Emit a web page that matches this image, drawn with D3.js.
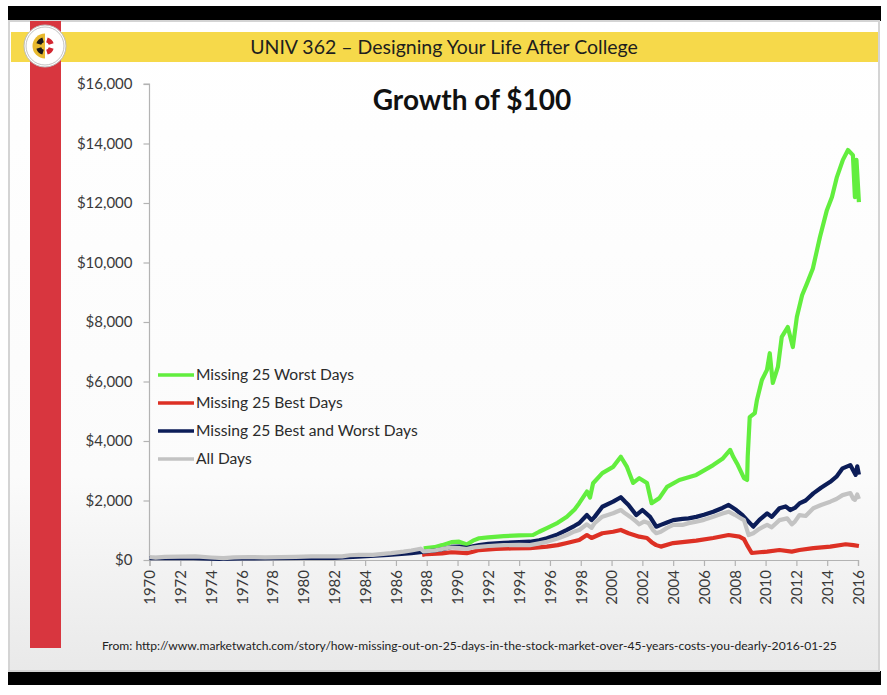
<!DOCTYPE html>
<html>
<head>
<meta charset="utf-8">
<script src="https://cdn.jsdelivr.net/npm/d3@7"></script>
<style>
  body { margin: 0; background: #fff; }
  text { font-family: Lato, "Open Sans", sans-serif; }
</style>
</head>
<body>
<svg id="slide" width="887" height="695"></svg>
<script>
// values, one pair of arrays per series
const years_all = [1970.0, 1970.4, 1971.0, 1972.0, 1973.0, 1974.0, 1974.8, 1975.5, 1976.5, 1977.5, 1978.5, 1979.5, 1980.5, 1981.5, 1982.5, 1983.0, 1983.6, 1984.5, 1985.0, 1985.7, 1986.5, 1987.0, 1987.6, 1987.8, 1988.5, 1989.5, 1990.1, 1990.6, 1991.0, 1991.4, 1992.0, 1993.0, 1994.0, 1994.7, 1995.3, 1995.8, 1996.5, 1997.1, 1997.6, 1997.9, 1998.4, 1998.7, 1998.9, 1999.4, 2000.1, 2000.6, 2000.9, 2001.2, 2001.6, 2001.8, 2002.1, 2002.4, 2002.7, 2002.9, 2003.2, 2003.6, 2004.0, 2004.6, 2005.0, 2005.5, 2006.0, 2006.6, 2007.2, 2007.6, 2008.0, 2008.4, 2008.6, 2008.8, 2008.9, 2009.2, 2009.6, 2010.1, 2010.4, 2010.9, 2011.4, 2011.7, 2011.9, 2012.2, 2012.6, 2013.1, 2013.6, 2014.2, 2014.6, 2015.0, 2015.5, 2015.7, 2015.8, 2015.95, 2016.06];
const values_all = [100, 80, 105, 115, 120, 85, 65, 85, 100, 90, 95, 105, 125, 120, 120, 160, 170, 175, 200, 230, 280, 320, 380, 290, 320, 420, 400, 370, 420, 440, 470, 500, 510, 500, 560, 615, 720, 840, 960, 1010, 1200, 1080, 1240, 1455, 1570, 1680, 1560, 1455, 1290, 1200, 1290, 1240, 1000, 900, 950, 1080, 1180, 1180, 1240, 1290, 1350, 1455, 1560, 1625, 1520, 1400, 1340, 1000, 840, 900, 1050, 1180, 1100, 1340, 1400, 1200, 1290, 1510, 1480, 1740, 1850, 1960, 2050, 2180, 2250, 2050, 2020, 2200, 2050];

const years_both = [1970.0, 1972.3, 1974.5, 1976.0, 1978.0, 1980.0, 1982.0, 1983.5, 1985.5, 1987.0, 1988.0, 1988.5, 1989.0, 1989.6, 1990.1, 1990.6, 1991.0, 1991.4, 1992.0, 1993.0, 1994.0, 1994.7, 1995.3, 1995.8, 1996.5, 1997.1, 1997.6, 1997.9, 1998.4, 1998.7, 1998.9, 1999.4, 2000.1, 2000.6, 2000.9, 2001.1, 2001.6, 2002.0, 2002.5, 2002.9, 2003.2, 2003.6, 2004.0, 2004.6, 2005.0, 2005.5, 2006.0, 2006.6, 2007.2, 2007.6, 2008.1, 2008.5, 2008.8, 2009.2, 2009.6, 2010.1, 2010.4, 2010.9, 2011.3, 2011.6, 2011.9, 2012.2, 2012.6, 2013.1, 2013.6, 2014.2, 2014.6, 2015.0, 2015.5, 2015.7, 2015.85, 2015.95, 2016.06];
const values_both = [60, 70, 40, 55, 60, 70, 70, 110, 170, 230, 290, 320, 360, 440, 450, 400, 460, 500, 540, 580, 600, 615, 660, 730, 860, 1010, 1150, 1240, 1510, 1340, 1450, 1790, 1960, 2110, 1950, 1850, 1510, 1680, 1450, 1120, 1180, 1260, 1340, 1380, 1400, 1450, 1520, 1620, 1750, 1850, 1680, 1510, 1340, 1120, 1350, 1570, 1450, 1740, 1800, 1680, 1750, 1900, 2000, 2240, 2430, 2630, 2800, 3080, 3190, 3000, 2860, 3150, 2870];

const years_best = [1987.7, 1988.0, 1989.0, 1989.6, 1990.1, 1990.6, 1991.0, 1991.4, 1992.5, 1993.5, 1994.7, 1995.8, 1996.5, 1997.1, 1997.9, 1998.4, 1998.7, 1999.4, 2000.1, 2000.6, 2001.1, 2001.8, 2002.3, 2002.6, 2002.9, 2003.2, 2004.0, 2005.5, 2006.6, 2007.6, 2008.3, 2008.6, 2008.8, 2009.1, 2009.6, 2010.1, 2010.9, 2011.7, 2012.2, 2013.1, 2014.2, 2015.2, 2015.7, 2016.06];
const values_best = [170, 200, 220, 260, 245, 230, 280, 335, 370, 390, 400, 450, 500, 570, 670, 840, 740, 900, 950, 1010, 900, 785, 740, 600, 500, 450, 570, 650, 740, 840, 785, 700, 500, 235, 260, 280, 335, 280, 335, 400, 450, 530, 500, 470];

const years_worst = [1987.8, 1988.5, 1989.0, 1989.6, 1990.1, 1990.6, 1991.0, 1991.4, 1992.0, 1993.0, 1994.0, 1994.9, 1995.3, 1995.8, 1996.5, 1997.1, 1997.6, 1997.9, 1998.4, 1998.6, 1998.8, 1999.4, 2000.1, 2000.6, 2001.0, 2001.4, 2001.8, 2002.3, 2002.6, 2003.1, 2003.6, 2004.4, 2005.5, 2006.6, 2007.2, 2007.7, 2007.9, 2008.2, 2008.6, 2008.8, 2008.84, 2008.97, 2009.3, 2009.44, 2009.76, 2010.09, 2010.27, 2010.47, 2010.8, 2011.05, 2011.44, 2011.77, 2012.03, 2012.37, 2012.69, 2013.07, 2013.53, 2013.98, 2014.31, 2014.63, 2015.02, 2015.35, 2015.67, 2015.8, 2015.9, 2016.06];
const values_worst = [390, 430, 500, 600, 615, 520, 650, 730, 760, 800, 830, 840, 950, 1075, 1250, 1455, 1700, 1910, 2300, 2100, 2580, 2920, 3130, 3470, 3130, 2590, 2750, 2590, 1910, 2080, 2460, 2690, 2860, 3190, 3400, 3700, 3470, 3190, 2750, 2690, 3470, 4800, 4940, 5380, 6050, 6390, 6950, 5950, 6490, 7500, 7830, 7160, 8170, 8900, 9300, 9800, 10860, 11760, 12200, 12870, 13450, 13780, 13610, 12200, 13450, 12030];

const series_names = ["Missing 25 Worst Days", "Missing 25 Best Days", "Missing 25 Best and Worst Days", "All Days"];
const series_colors = ["#62ee3e", "#dd3024", "#0c1d58", "#c3c3c3"];
const x_ticks = d3.range(1970, 2017, 2);
const y_ticks = [0, 2000, 4000, 6000, 8000, 10000, 12000, 14000, 16000];

const header_text = "UNIV 362 \u2013 Designing Your Life After College";
const title_text = "Growth of $100";
const source_text = "From: http://www.marketwatch.com/story/how-missing-out-on-25-days-in-the-stock-market-over-45-years-costs-you-dearly-2016-01-25";

const svg = d3.select('#slide');

// slide frame
const defs = svg.append('defs');
const grad = defs.append('linearGradient').attr('id', 'bg').attr('x1', 0).attr('y1', 0).attr('x2', 0).attr('y2', 1);
grad.append('stop').attr('offset', '0%').attr('stop-color', '#ffffff');
grad.append('stop').attr('offset', '70%').attr('stop-color', '#fbfbfb');
grad.append('stop').attr('offset', '100%').attr('stop-color', '#e9e9e9');

svg.append('rect').attr('x', 8).attr('y', 6).attr('width', 873).attr('height', 15).attr('fill', '#000');
svg.append('rect').attr('x', 8).attr('y', 671).attr('width', 873).attr('height', 14).attr('fill', '#000');
svg.append('rect').attr('x', 9).attr('y', 21).attr('width', 870).attr('height', 650)
    .attr('fill', 'url(#bg)').attr('stroke', '#d4d4d4').attr('stroke-width', 2);

svg.append('rect').attr('x', 11).attr('y', 32).attr('width', 867).attr('height', 30).attr('fill', '#f6d94a');
svg.append('rect').attr('x', 30).attr('y', 21).attr('width', 31).attr('height', 627).attr('fill', '#d8363f');

// logo, simplified
const logo = svg.append('g').attr('transform', 'translate(45,46)');
logo.append('circle').attr('r', 21).attr('fill', '#fff').attr('stroke', '#bbb').attr('stroke-width', 1);
logo.append('circle').attr('r', 19).attr('fill', 'none').attr('stroke', '#999').attr('stroke-width', 0.6);
const quad = [['#1a1a1a', '#e8b92f'], ['#d22630', '#ffffff'], ['#d22630', '#ffffff'], ['#1a1a1a', '#e8b92f']];
const arc = d3.arc().innerRadius(0).outerRadius(12.5);
quad.forEach((q, i) => {
    logo.append('path')
        .attr('d', arc({startAngle: -Math.PI / 2 + i * Math.PI / 2, endAngle: i * Math.PI / 2}))
        .attr('fill', q[1]);
    logo.append('path')
        .attr('d', d3.arc().innerRadius(4).outerRadius(9)({startAngle: -Math.PI / 2 + i * Math.PI / 2 + 0.3, endAngle: i * Math.PI / 2 - 0.3}))
        .attr('fill', q[0]);
});

svg.append('text').text(header_text)
    .attr('x', 444).attr('y', 54)
    .attr('text-anchor', 'middle')
    .attr('font-size', 19.5)
    .attr('fill', '#1e1e1e');

svg.append('text').text(title_text)
    .attr('x', 472).attr('y', 110)
    .attr('text-anchor', 'middle')
    .attr('font-size', 28)
    .attr('font-weight', 'bold')
    .attr('fill', '#111');

svg.append('text').text(source_text)
    .attr('x', 102).attr('y', 650)
    .attr('font-size', 12.1)
    .attr('fill', '#222');

// chart
const x = d3.scaleLinear().domain([1970, 2016]).range([149.5, 858]);
const y = d3.scaleLinear().domain([0, 16000]).range([560, 84]);

const yAxis = svg.append('g')
    .attr('transform', 'translate(149.5,0)')
    .call(d3.axisLeft(y).tickValues(y_ticks).tickSize(6).tickPadding(11)
        .tickFormat(d => '$' + d3.format(',')(d)));
yAxis.selectAll('path, line').attr('stroke', '#b3b3b3').attr('stroke-width', 1.2);
yAxis.selectAll('text').attr('font-size', 15).attr('fill', '#3a3a3a').attr('font-family', 'Lato, sans-serif');
yAxis.select('.domain').attr('d', 'M-6,' + y(16000) + 'H0V' + y(0));

const xAxis = svg.append('g')
    .attr('transform', 'translate(0,560)')
    .call(d3.axisBottom(x).tickValues(x_ticks).tickSize(6).tickFormat(d3.format('d')));
xAxis.selectAll('path, line').attr('stroke', '#b3b3b3').attr('stroke-width', 1.2);
xAxis.selectAll('text')
    .attr('font-size', 15)
    .attr('fill', '#3a3a3a')
    .attr('font-family', 'Lato, sans-serif')
    .attr('text-anchor', 'end')
    .attr('transform', 'rotate(-90)')
    .attr('x', -10)
    .attr('y', 0)
    .attr('dy', '0.35em');

const line = d3.line()
    .x(d => x(d[0]))
    .y(d => y(d[1]));

const series = [
    d3.zip(years_worst, values_worst),
    d3.zip(years_best, values_best),
    d3.zip(years_both, values_both),
    d3.zip(years_all, values_all)
];

svg.append('g').attr('id', 'lines')
    .selectAll('path')
    .data(series)
    .enter()
    .append('path')
    .attr('d', line)
    .attr('fill', 'none')
    .attr('stroke', (d, i) => series_colors[i])
    .attr('stroke-width', 4.2)
    .attr('stroke-linejoin', 'round');

// legend
const legend = svg.append('g').attr('id', 'legend');
series_names.forEach((name, i) => {
    const ly = 375 + i * 28;
    legend.append('line')
        .attr('x1', 158).attr('x2', 194)
        .attr('y1', ly).attr('y2', ly)
        .attr('stroke', series_colors[i])
        .attr('stroke-width', 3.6);
    legend.append('text').text(name)
        .attr('x', 196).attr('y', ly + 5)
        .attr('font-size', 15.6)
        .attr('fill', '#2b2b2b');
});
</script>
</body>
</html>
